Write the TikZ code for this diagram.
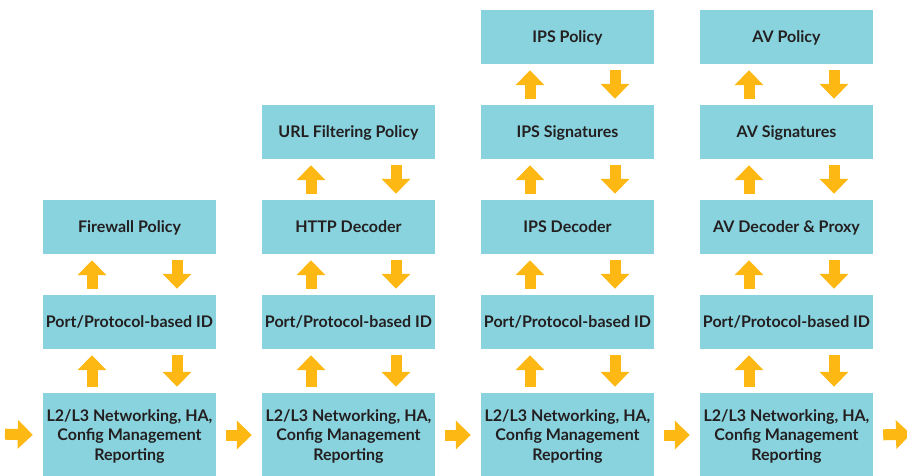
\documentclass[tikz,border=0pt]{standalone}
\usepackage{fontspec}
\setmainfont{Lato}
\usetikzlibrary{arrows.meta}
\definecolor{skyteal}{RGB}{137, 211, 222}
\definecolor{amber}{RGB}{253, 184, 19}
\definecolor{inkgrey}{RGB}{35, 31, 32}
\tikzset{
    box/.style={fill=skyteal, text=inkgrey, minimum width=173pt, minimum height=54pt, inner sep=0pt,
                text depth=0pt, font=\fontsize{16}{19.5}\selectfont\bfseries, align=center},
    basebox/.style={box, minimum height=84pt},
    flow/.style={draw=amber, line width=11pt, -{Triangle[length=15pt,width=28pt]}, shorten <=6pt, shorten >=6pt},
    hflow/.style={flow, shorten <=10pt, shorten >=10pt}
}

\begin{document}
\begin{tikzpicture}[x=1pt, y=-1pt]
    \useasboundingbox (0,0) rectangle (907,476);
    % base layer
    \node[basebox] (net1)  at (129.5,435) {L2/L3 Networking, HA,\\Config Management\\Reporting};
    \node[basebox] (net2)  at (348.5,435) {L2/L3 Networking, HA,\\Config Management\\Reporting};
    \node[basebox] (net3)  at (567.5,435) {L2/L3 Networking, HA,\\Config Management\\Reporting};
    \node[basebox] (net4)  at (786.5,435) {L2/L3 Networking, HA,\\Config Management\\Reporting};
    \node[box]     (port1) at (129.5,322) {Port/Protocol-based ID};
    \node[box]     (port2) at (348.5,322) {Port/Protocol-based ID};
    \node[box]     (port3) at (567.5,322) {Port/Protocol-based ID};
    \node[box]     (port4) at (786.5,322) {Port/Protocol-based ID};
    % decoders and policies
    \node[box]     (fw)    at (129.5,227) {Firewall Policy};
    \node[box]     (http)  at (348.5,227) {HTTP Decoder};
    \node[box]     (url)   at (348.5,132) {URL Filtering Policy};
    \node[box]     (ipsd)  at (567.5,227) {IPS Decoder};
    \node[box]     (ipss)  at (567.5,132) {IPS Signatures};
    \node[box]     (ipsp)  at (567.5, 37) {IPS Policy};
    \node[box]     (avd)   at (786.5,227) {AV Decoder \& Proxy};
    \node[box]     (avs)   at (786.5,132) {AV Signatures};
    \node[box]     (avp)   at (786.5, 37) {AV Policy};
    \coordinate (in)  at (-5,434);
    \coordinate (out) at (921,434);
    % up and down between layers
    \foreach \lo/\hi in {net1/port1, port1/fw, net2/port2, port2/http, http/url,
                         net3/port3, port3/ipsd, ipsd/ipss, ipss/ipsp,
                         net4/port4, port4/avd, avd/avs, avs/avp}{
        \draw[flow] ([xshift=-37.5pt]\lo.north) -- ([xshift=-37.5pt]\hi.south);
        \draw[flow] ([xshift=47.5pt]\hi.south)  -- ([xshift=47.5pt]\lo.north);
    }
    % left to right
    \draw[hflow] (in)        -- (net1.west);
    \draw[hflow] (net1.east) -- (net2.west);
    \draw[hflow] (net2.east) -- (net3.west);
    \draw[hflow] (net3.east) -- (net4.west);
    \draw[hflow] (net4.east) -- (out);
\end{tikzpicture}
\end{document}
